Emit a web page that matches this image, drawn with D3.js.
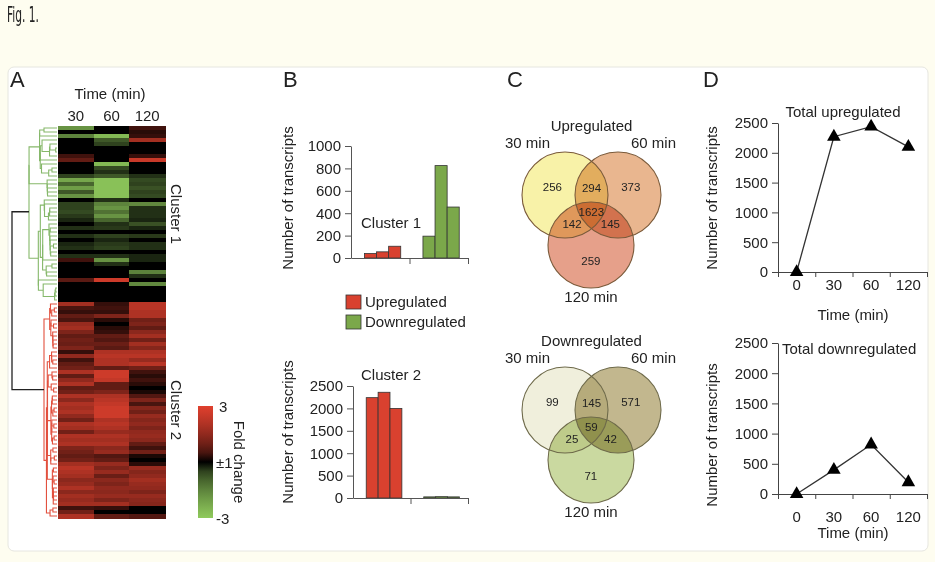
<!DOCTYPE html>
<html>
<head>
<meta charset="utf-8">
<script src="https://cdn.jsdelivr.net/npm/d3@7"></script>
<style>
  body { margin: 0; background: #fefdf0; }
  text { font-family: "Liberation Sans", Arial, sans-serif; fill: #222; }
</style>
</head>
<body>
<svg id="fig" width="935" height="562"></svg>
<script>
// ---- data ----
const timeCols = ['30', '60', '120'];
// log fold change per row (30, 60, 120 min), top to bottom
const cluster1 = [
  [-1.8,0,0.4],[0,0,0.2],[-1.5,-2.6,0.3],[0,-0.8,1.8],[0,-0.5,0],[0,0,0],[0,0,0],[0.4,0,0.3],
  [0.8,0,2.5],[0,-2.6,0],[0,-0.6,0],[0,-0.3,0],[-0.5,-0.8,-0.3],[-2.2,-2.8,-0.6],[-1,-2.8,-0.5],
  [-2,-2.8,-0.7],[-0.8,-2.8,-0.5],[-1.8,-2.8,-0.6],[0,-0.3,0],[-0.5,-1.5,-1.6],[-0.5,-1.8,-0.3],
  [-0.6,-1.2,-0.3],[-0.4,-1.8,-0.3],[-0.2,-1,-0.2],[0,-0.3,-0.7],[-0.3,-0.4,-0.2],[0,0,0],
  [-0.3,-0.5,-0.4],[0,-0.2,0],[-0.2,-0.4,-0.3],[-0.3,-0.5,-0.3],[0,0,0],[-0.3,-0.3,-0.2],
  [0.4,-1.8,-0.2],[0,-0.3,0],[0,0,0],[0,0,-1.5],[0,0,-0.3],[0.7,2.6,0],[0,0,-1.6],[0,0,0],
  [0,0,0],[0,0,0],[0,0,0]
];
const cluster2 = [
  [1.8,0.3,2.2],[0.5,0.4,2.2],[0.3,0.3,2.0],[0.8,1.2,2.0],[0.5,0.2,1.0],[1.6,0,1.2],[1.8,0.2,0.8],
  [1.2,0.3,1.4],[0.8,0.8,1.8],[1.0,0.6,1.0],[0.9,0.9,1.8],[1.2,0.7,1.3],[0.3,2.0,2.0],[1.5,2.2,2.2],
  [0.4,2.0,1.6],[0.8,2.0,2.2],[1.0,0.8,1.0],[2.0,2.6,0.4],[0.8,2.6,0.2],[1.5,2.4,0.4],[2.0,0.8,0.2],
  [0.8,0.8,0],[1.0,1.2,0.1],[2.0,2.0,0.6],[1.4,2.2,1.2],[2.0,2.4,0.5],[1.8,2.6,1.3],[2.0,2.6,1.0],
  [1.5,2.6,1.6],[1.0,2.0,1.3],[2.0,2.2,1.5],[1.8,2.0,1.2],[1.0,1.6,1.5],[2.0,2.0,1.6],[1.8,1.8,1.4],
  [2.0,2.0,0.8],[1.2,1.4,0.4],[1.0,1.6,1.0],[0.8,0.6,0.1],[1.0,0.8,0],[1.8,1.6,0.2],[2.2,1.2,1.6],
  [2.0,1.6,1.3],[1.8,0.9,1.5],[1.4,1.4,1.8],[1.6,1.2,1.6],[2.0,1.5,1.5],[1.4,1.4,1.2],[1.8,1.6,1.6],
  [1.6,1.2,1.4],[1.8,1.8,1.3],[0.4,0.3,0],[1.0,0,0],[2.0,0.8,0.6]
];
const foldLabels = ['3', '±1', '-3'];

const regGroups = ['Upregulated', 'Downregulated'];
const c1Up = [40, 55, 105];
const c1Down = [195, 825, 455];
const c2Up = [2240, 2360, 2000];
const c2Down = [25, 30, 25];
const c1Ticks = [0, 200, 400, 600, 800, 1000];
const c2Ticks = [0, 500, 1000, 1500, 2000, 2500];

const vennSets = ['30 min', '60 min', '120 min'];
// regions: which sets, count
const vennUp = [
  {sets: [0], n: 256}, {sets: [1], n: 373}, {sets: [2], n: 259},
  {sets: [0, 1], n: 294}, {sets: [0, 2], n: 142}, {sets: [1, 2], n: 145},
  {sets: [0, 1, 2], n: 1623}
];
const vennDown = [
  {sets: [0], n: 99}, {sets: [1], n: 571}, {sets: [2], n: 71},
  {sets: [0, 1], n: 145}, {sets: [0, 2], n: 25}, {sets: [1, 2], n: 42},
  {sets: [0, 1, 2], n: 59}
];
const upFills = ['#f8f2a8', '#e9b68f', '#e6a08a'];
const downFills = ['#f0efdc', '#c2b78e', '#cad9a0'];

const timePoints = ['0', '30', '60', '120'];
const totalUp = [0, 2270, 2440, 2100];
const totalDown = [0, 400, 820, 195];
const totalTicks = [0, 500, 1000, 1500, 2000, 2500];

// ---- page ----
const svg = d3.select('#fig');
const red = '#e0402e', green = '#8fca5c';
const fmt = d3.format('d');

svg.append('text').attr('x', 7).attr('y', 22)
  .attr('textLength', 32).attr('lengthAdjust', 'spacingAndGlyphs')
  .style('font-family', '"Liberation Sans Narrow", "DejaVu Sans Condensed", sans-serif')
  .style('font-size', '22px').text('Fig. 1.');

svg.append('rect').attr('x', 8).attr('y', 67).attr('width', 920).attr('height', 484)
  .attr('rx', 6).attr('fill', '#fff').attr('stroke', '#e6e6e0');

const letters = [['A', 10], ['B', 283], ['C', 507], ['D', 703]];
svg.selectAll('.plabel').data(letters).join('text')
  .attr('x', d => d[1]).attr('y', 87)
  .style('font-size', '22px').text(d => d[0]);

// ---- A: heatmap ----
const rows = cluster1.concat(cluster2);
const yRow = d3.scaleBand().domain(d3.range(rows.length)).range([126, 518]);
const xCol = d3.scaleBand().domain(timeCols).range([58, 165]);
const heat = d3.scaleLinear().domain([-3, 0, 3]).range([green, '#000', red])
  .interpolate(d3.interpolateRgb.gamma(1.6)).clamp(true);

const hm = svg.append('g').attr('shape-rendering', 'crispEdges');
rows.forEach((r, i) => {
  hm.selectAll(null).data(r).join('rect')
    .attr('x', (d, j) => xCol(timeCols[j]))
    .attr('y', yRow(i))
    .attr('width', xCol.bandwidth() + 0.5)
    .attr('height', yRow.bandwidth() + 0.5)
    .attr('fill', d => heat(d));
});

const colAxis = svg.append('g').attr('transform', 'translate(0,126)')
  .call(d3.axisTop(xCol).tickSize(0).tickPadding(5));
colAxis.select('.domain').remove();
colAxis.selectAll('text').attr('font-size', 15).attr('font-family', null);
svg.append('text').attr('x', 110).attr('y', 99).attr('text-anchor', 'middle')
  .style('font-size', '15px').text('Time (min)');

// dendrogram: order-preserving agglomerative merge of neighbouring rows
function buildTree(data, offset) {
  let nodes = data.map((v, i) => ({mean: v.slice(), n: 1, h: 0,
    y: yRow(i + offset) + yRow.bandwidth() / 2, kids: null}));
  while (nodes.length > 1) {
    let best = 0, bd = Infinity;
    for (let k = 0; k < nodes.length - 1; k++) {
      const a = nodes[k], b = nodes[k + 1];
      const d = Math.hypot(...a.mean.map((m, j) => m - b.mean[j])) * Math.sqrt(a.n * b.n / (a.n + b.n));
      if (d < bd) { bd = d; best = k; }
    }
    const a = nodes[best], b = nodes[best + 1];
    const n = a.n + b.n;
    const node = {mean: a.mean.map((m, j) => (m * a.n + b.mean[j] * b.n) / n), n,
      h: Math.max(bd, a.h, b.h) + 0.02, y: (a.y + b.y) / 2, kids: [a, b]};
    nodes.splice(best, 2, node);
  }
  return nodes[0];
}
function drawTree(root, topX, color) {
  const xs = d3.scalePow().exponent(0.55).domain([0, root.h]).range([57, topX]);
  const g = svg.append('g').attr('fill', 'none').attr('stroke', color).attr('stroke-width', 1.1);
  (function walk(nd) {
    if (!nd.kids) return;
    const x = xs(nd.h);
    const [a, b] = nd.kids;
    g.append('path').attr('d', `M${xs(a.h)},${a.y}H${x}V${b.y}H${xs(b.h)}`);
    walk(a); walk(b);
  })(root);
  return xs(root.h);
}
const t1 = buildTree(cluster1, 0), t2 = buildTree(cluster2, cluster1.length);
const x1 = drawTree(t1, 29, '#86b86a');
const x2 = drawTree(t2, 44, '#e2513f');
svg.append('path').attr('fill', 'none').attr('stroke', '#222').attr('stroke-width', 1.3)
  .attr('d', `M${x1},${t1.y}H12V${t2.y}H${x2}`);

[['Cluster 1', 0, cluster1.length], ['Cluster 2', cluster1.length, rows.length]].forEach(c => {
  const cy = (yRow(c[1]) + yRow(c[2] - 1) + yRow.bandwidth()) / 2;
  svg.append('text').attr('transform', `translate(171,${cy}) rotate(90)`)
    .attr('text-anchor', 'middle').style('font-size', '15px').text(c[0]);
});

// colour bar
const cb = d3.scaleLinear().domain([-3, 3]).range([518, 406]);
const grad = svg.append('defs').append('linearGradient').attr('id', 'fc')
  .attr('x1', 0).attr('y1', 1).attr('x2', 0).attr('y2', 0);
d3.range(-3, 3.01, 0.5).forEach(v => grad.append('stop').attr('offset', (v + 3) / 6)
  .attr('stop-color', heat(v)));
svg.append('rect').attr('x', 198).attr('y', cb(3)).attr('width', 15)
  .attr('height', cb(-3) - cb(3)).attr('fill', 'url(#fc)');
svg.selectAll('.fl').data(foldLabels).join('text')
  .attr('x', (d, i) => i === 0 ? 219 : 216)
  .attr('y', (d, i) => cb([3, 0, -3][i]) + 6)
  .style('font-size', '15px').text(d => d);
svg.append('text').attr('transform', 'translate(234,462) rotate(90)')
  .attr('text-anchor', 'middle').style('font-size', '15px').text('Fold change');

// ---- B: bar charts ----
function barChart(o) {
  const g = svg.append('g');
  const xb = d3.scaleBand().domain(regGroups).range([o.x0, 468]);
  const xi = d3.scaleBand().domain([0, 1, 2])
    .range([0.23 * xb.bandwidth(), 0.85 * xb.bandwidth()]);
  const y = d3.scaleLinear().domain([0, o.ticks[o.ticks.length - 1]]).range([o.y0, o.y1]);
  [[o.up, '#d9412f'], [o.down, '#7ba84a']].forEach((s, k) => {
    g.selectAll(null).data(s[0]).join('rect')
      .attr('x', (d, i) => xb(regGroups[k]) + xi(i))
      .attr('y', d => y(d))
      .attr('width', xi.bandwidth())
      .attr('height', d => o.y0 - y(d))
      .attr('fill', s[1]).attr('stroke', '#333').attr('stroke-width', 0.8);
  });
  const ya = g.append('g').attr('transform', `translate(${o.x0},0)`)
    .call(d3.axisLeft(y).tickValues(o.ticks).tickFormat(fmt).tickSize(6).tickPadding(4).tickSizeOuter(0));
  const xa = g.append('g').attr('transform', `translate(0,${o.y0})`)
    .call(d3.axisBottom(d3.scaleLinear().domain([0, 2]).range([o.x0, 468]))
      .tickValues([1, 2]).tickSize(6).tickFormat('').tickSizeOuter(0));
  [ya, xa].forEach(a => {
    a.selectAll('text').attr('font-size', 15).attr('font-family', null).attr('fill', '#222');
    a.selectAll('line,path').attr('stroke', '#555');
  });
  g.append('text').attr('transform', `translate(293,${o.ty}) rotate(-90)`)
    .attr('text-anchor', 'middle').style('font-size', '15px').text('Number of transcripts');
  g.append('text').attr('x', 361).attr('y', o.ly).style('font-size', '15px').text(o.label);
}
barChart({x0: 351, y0: 258, y1: 146, ticks: c1Ticks, up: c1Up, down: c1Down, ty: 198, ly: 228, label: 'Cluster 1'});
barChart({x0: 353, y0: 498, y1: 386, ticks: c2Ticks, up: c2Up, down: c2Down, ty: 432, ly: 380, label: 'Cluster 2'});

const leg = svg.selectAll('.leg').data(regGroups).join('g')
  .attr('transform', (d, i) => `translate(346,${295 + i * 20})`);
leg.append('rect').attr('width', 15).attr('height', 14)
  .attr('fill', (d, i) => i ? '#7ba84a' : '#d9412f').attr('stroke', '#333').attr('stroke-width', 0.8);
leg.append('text').attr('x', 19).attr('y', 12).style('font-size', '15px').text(d => d);

// ---- C: Venn diagrams ----
function venn(o) {
  const r = 43;
  const cs = [[o.cx - 26, o.cy], [o.cx + 27, o.cy], [o.cx, o.cy + 50]];
  const g = svg.append('g');
  g.selectAll('circle').data(cs).join('circle')
    .attr('cx', d => d[0]).attr('cy', d => d[1]).attr('r', r)
    .attr('fill', (d, i) => o.fills[i]).style('mix-blend-mode', 'multiply');
  g.selectAll('.ring').data(cs).join('circle')
    .attr('cx', d => d[0]).attr('cy', d => d[1]).attr('r', r)
    .attr('fill', 'none').attr('stroke', o.stroke).attr('stroke-width', 1.1);
  const mean = pts => [d3.mean(pts, p => p[0]), d3.mean(pts, p => p[1])];
  g.selectAll('.num').data(o.regions).join('text')
    .attr('text-anchor', 'middle').style('font-size', '11.5px').attr('fill', '#333')
    .each(function (d) {
      const inc = mean(d.sets.map(i => cs[i]));
      const exc = d.sets.length < 3 ? mean([0, 1, 2].filter(i => !d.sets.includes(i)).map(i => cs[i])) : inc;
      const k = d.sets.length === 1 ? 0.32 : 0.15;
      d3.select(this).attr('x', inc[0] + k * (inc[0] - exc[0]))
        .attr('y', inc[1] + k * (inc[1] - exc[1]) + 4);
    })
    .text(d => d.n);
  g.append('text').attr('x', o.cx + 0.5).attr('y', o.cy - 64).attr('text-anchor', 'middle')
    .style('font-size', '15px').text(o.title);
  g.append('text').attr('x', cs[0][0] - 60).attr('y', o.cy - 47).style('font-size', '15px').text(vennSets[0]);
  g.append('text').attr('x', cs[1][0] + 58).attr('y', o.cy - 47).attr('text-anchor', 'end')
    .style('font-size', '15px').text(vennSets[1]);
  g.append('text').attr('x', cs[2][0]).attr('y', cs[2][1] + r + 14).attr('text-anchor', 'middle')
    .style('font-size', '15px').text(vennSets[2]);
}
venn({cx: 591, cy: 195, fills: upFills, stroke: '#7a5a3a', regions: vennUp, title: 'Upregulated'});
venn({cx: 591, cy: 410, fills: downFills, stroke: '#6e6a4a', regions: vennDown, title: 'Downregulated'});

// ---- D: totals over time ----
function totals(o) {
  const g = svg.append('g');
  const xb = d3.scaleBand().domain(timePoints).range([778, 927]);
  const y = d3.scaleLinear().domain([0, 2500]).range([o.y0, o.y1]);
  const ya = g.append('g').attr('transform', 'translate(778,0)')
    .call(d3.axisLeft(y).tickValues(totalTicks).tickFormat(fmt).tickSize(6).tickPadding(4).tickSizeOuter(0));
  const xt = g.append('g').attr('transform', `translate(0,${o.y0})`)
    .call(d3.axisBottom(d3.scaleLinear().domain([0, 4]).range([778, 927]))
      .tickValues([0, 1, 2, 3, 4]).tickSize(5).tickFormat('').tickSizeOuter(0));
  const xl = g.append('g').attr('transform', `translate(0,${o.y0})`)
    .call(d3.axisBottom(xb).tickSize(0).tickPadding(o.pad));
  xl.select('.domain').remove();
  [ya, xt, xl].forEach(a => {
    a.selectAll('text').attr('font-size', 15).attr('font-family', null).attr('fill', '#222');
    a.selectAll('line,path').attr('stroke', '#444');
  });
  const line = d3.line().x((d, i) => xb(timePoints[i]) + xb.bandwidth() / 2).y(d => y(d));
  g.append('path').datum(o.values).attr('d', line)
    .attr('fill', 'none').attr('stroke', '#333').attr('stroke-width', 1.3);
  g.selectAll('.tri').data(o.values).join('path')
    .attr('transform', (d, i) => `translate(${xb(timePoints[i]) + xb.bandwidth() / 2},${y(d)})`)
    .attr('d', d3.symbol(d3.symbolTriangle, 80)).attr('fill', '#000');
  g.append('text').attr('transform', `translate(717,${o.ty}) rotate(-90)`)
    .attr('text-anchor', 'middle').style('font-size', '15px').text('Number of transcripts');
  g.append('text').attr('x', 853).attr('y', o.xty).attr('text-anchor', 'middle')
    .style('font-size', '15px').text('Time (min)');
  g.append('text').attr('x', o.tx).attr('y', o.tty).attr('text-anchor', o.anchor)
    .style('font-size', '15px').text(o.title);
}
totals({y0: 272, y1: 123, values: totalUp, pad: 7, ty: 198, xty: 320, title: 'Total upregulated', tx: 843, tty: 117, anchor: 'middle'});
totals({y0: 494, y1: 343, values: totalDown, pad: 17, ty: 435, xty: 538, title: 'Total downregulated', tx: 782, tty: 354, anchor: 'start'});
</script>
</body>
</html>
